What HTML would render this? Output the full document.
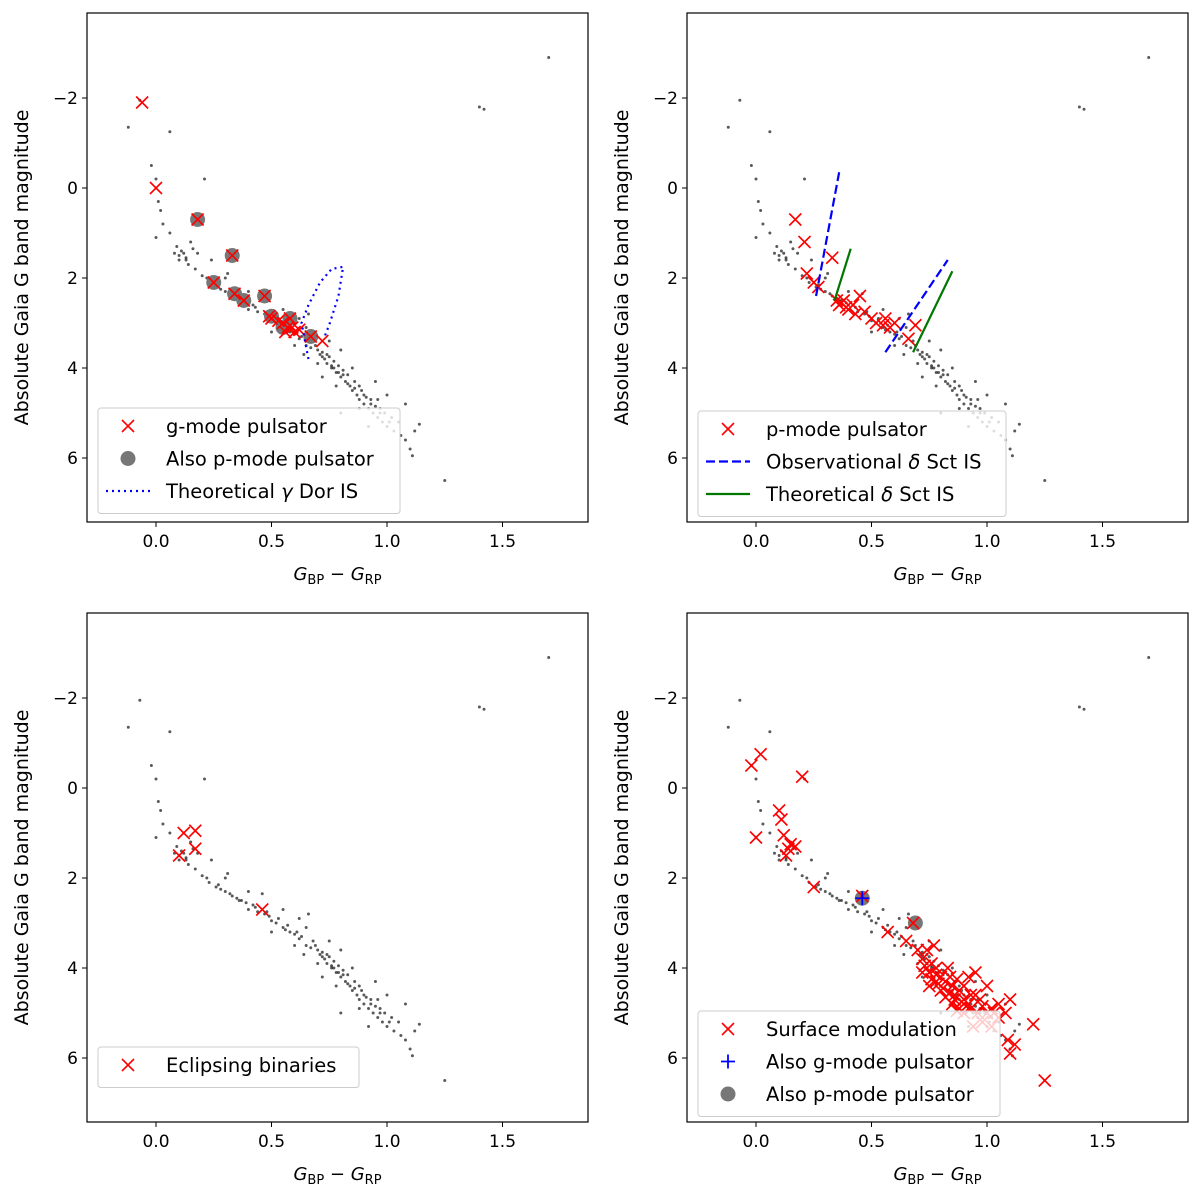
<!DOCTYPE html>
<html><head><meta charset="utf-8"><style>
body{margin:0;background:#fff}
svg text{font-family:"DejaVu Sans","Liberation Sans",sans-serif;fill:#000}
</style></head><body>
<svg id="fig" width="1200" height="1199" viewBox="0 0 1200 1199" xmlns="http://www.w3.org/2000/svg"></svg>
<script>
const bgStars=[[-0.12,-1.35],[-0.07,-1.95],[0.06,-1.25],[-0.02,-0.5],[0.0,-0.2],[0.01,0.3],[0.02,0.5],[0.0,1.1],[0.03,0.8],[0.06,1.0],[0.09,1.3],[0.1,1.5],[0.1,1.6],[0.12,1.45],[0.13,1.55],[0.14,1.7],[0.15,1.2],[0.16,1.35],[0.17,1.8],[0.18,1.45],[0.2,1.95],[0.21,-0.2],[0.22,2.0],[0.23,2.1],[0.24,1.6],[0.26,2.2],[0.28,2.25],[0.3,2.3],[0.31,1.9],[0.33,2.4],[0.35,2.45],[0.37,2.5],[0.39,2.55],[0.4,2.7],[0.42,2.6],[0.44,2.75],[0.46,2.35],[0.47,2.8],[0.49,2.85],[0.5,2.95],[0.52,3.0],[0.53,2.9],[0.55,3.1],[0.56,3.15],[0.58,3.2],[0.6,3.25],[0.62,3.35],[0.63,3.3],[0.65,3.5],[0.66,2.8],[0.67,3.55],[0.68,3.4],[0.7,3.6],[0.71,3.7],[0.72,3.65],[0.73,3.8],[0.74,3.9],[0.75,3.75],[0.76,4.0],[0.77,3.85],[0.78,4.1],[0.79,3.95],[0.8,4.2],[0.81,4.05],[0.82,4.3],[0.83,4.15],[0.84,4.4],[0.85,4.5],[0.86,4.3],[0.87,4.6],[0.88,4.7],[0.89,4.5],[0.9,4.8],[0.91,4.65],[0.92,4.9],[0.93,4.7],[0.94,5.0],[0.95,4.85],[0.96,5.1],[0.97,4.9],[0.98,5.2],[0.99,5.0],[1.0,5.3],[1.02,5.1],[1.03,5.4],[1.05,5.2],[1.06,5.5],[1.08,5.6],[1.1,5.8],[1.11,5.95],[1.12,5.4],[1.14,5.25],[1.08,4.8],[1.0,4.6],[0.95,4.3],[0.85,4.0],[0.8,3.6],[0.75,3.4],[0.65,3.1],[0.55,2.7],[0.6,3.5],[0.7,3.9],[0.78,4.4],[0.88,4.9],[0.4,2.3],[0.3,2.0],[1.25,6.5],[1.4,-1.8],[1.42,-1.75],[1.7,-2.9],[0.8,5.0],[0.72,4.2],[0.92,5.3],[0.64,3.7],[0.62,2.9],[0.5,3.2],[0.11,1.4],[0.13,1.6],[0.08,1.45],[0.27,2.15],[0.32,2.35],[0.36,2.5],[0.43,2.65],[0.48,2.75],[0.57,3.05],[0.61,3.2],[0.69,3.5],[0.74,3.7],[0.77,4.0],[0.79,4.1],[0.81,4.15],[0.83,4.35],[0.86,4.45],[0.9,4.6],[0.93,4.8],[0.97,5.0],[1.01,5.2],[0.76,3.95],[0.72,3.75],[0.88,4.4],[0.96,4.7]];
const gModeX=[[-0.06,-1.9],[0,0.0],[0.18,0.7],[0.33,1.5],[0.25,2.1],[0.34,2.35],[0.38,2.5],[0.47,2.4],[0.49,2.85],[0.5,2.9],[0.55,3.0],[0.57,3.1],[0.58,2.9],[0.6,3.2],[0.56,3.2],[0.62,3.15],[0.67,3.3],[0.72,3.4],[0.59,3.1],[0.53,2.95]];
const gModeAlsoP=[[0.18,0.7],[0.33,1.5],[0.25,2.1],[0.34,2.35],[0.38,2.5],[0.47,2.4],[0.5,2.85],[0.58,2.9],[0.67,3.3],[0.55,3.1]];
const gDorIS=[[0.66,3.8],[0.63,3.0],[0.66,2.6],[0.71,2.1],[0.76,1.8],[0.81,1.75],[0.79,2.4],[0.75,3.04],[0.73,3.3]];
const pModeX=[[0.17,0.7],[0.21,1.2],[0.22,1.9],[0.25,2.1],[0.27,2.2],[0.33,1.55],[0.35,2.5],[0.36,2.6],[0.38,2.5],[0.4,2.7],[0.42,2.6],[0.43,2.8],[0.45,2.4],[0.47,2.75],[0.5,2.9],[0.52,3.0],[0.55,3.05],[0.56,2.9],[0.58,3.1],[0.6,3.0],[0.66,3.35],[0.69,3.05],[0.37,2.55],[0.39,2.65]];
const obsBlue=[[0.26,2.4],[0.36,-0.35]];
const obsRed=[[0.56,3.65],[0.83,1.6]];
const theoBlue=[[0.34,2.5],[0.41,1.35]];
const theoRed=[[0.68,3.65],[0.85,1.85]];
const eclX=[[0.12,1.0],[0.17,0.95],[0.1,1.5],[0.17,1.35],[0.46,2.7]];
const rotX=[[-0.02,-0.5],[0.02,-0.75],[0.0,1.1],[0.1,0.5],[0.11,0.7],[0.12,1.05],[0.14,1.35],[0.15,1.25],[0.13,1.5],[0.17,1.3],[0.2,-0.25],[0.25,2.2],[0.46,2.4],[0.57,3.2],[0.65,3.4],[0.68,3.0],[0.7,3.6],[0.72,3.8],[0.74,3.6],[0.76,3.9],[0.75,4.1],[0.78,4.0],[0.8,4.2],[0.77,3.5],[0.82,4.3],[0.85,4.4],[0.86,4.6],[0.88,4.5],[0.9,4.7],[0.92,4.8],[0.95,4.1],[0.93,4.9],[0.97,4.7],[1.0,5.0],[1.02,4.9],[1.05,4.8],[1.08,5.0],[1.1,4.7],[1.12,5.7],[1.1,5.9],[1.09,5.6],[1.2,5.25],[1.25,6.5],[0.98,5.2],[0.9,5.0],[0.85,4.8],[0.8,4.5],[0.75,4.4],[0.83,4.0],[0.87,4.25],[0.95,4.6],[1.0,4.4],[0.92,4.2],[0.78,4.3],[0.72,4.1],[0.88,4.9],[1.05,5.1],[0.96,5.0],[1.02,5.3],[0.94,5.3],[0.79,4.35],[0.81,4.45],[0.84,4.55],[0.86,4.7],[0.89,4.75],[0.91,4.85],[0.93,4.6],[0.76,4.25],[0.73,3.95],[0.82,4.65],[0.87,4.95],[0.98,4.85],[1.03,5.0],[0.9,4.4],[0.84,4.2],[0.78,4.15]];
const rotAlsoG=[[0.46,2.45]];
const rotAlsoP=[[0.46,2.45],[0.69,3.0]];
const xTicks=[0.0,0.5,1.0,1.5];
const xTickLabels=["0.0","0.5","1.0","1.5"];
const yTicks=[-2,0,2,4,6];
const yTickLabels=["\u22122","0","2","4","6"];

const NS="http://www.w3.org/2000/svg";
const fig=document.getElementById('fig');
function el(tag,attrs,parent){const e=document.createElementNS(NS,tag);for(const k in attrs)e.setAttribute(k,attrs[k]);(parent||fig).appendChild(e);return e;}

function panel(ox,oy,name){
  const g=el('g',{});
  
  
  const L=ox+87,R=ox+588,T=oy+13,B=oy+522;
  const sx=v=>ox+156+v*231;
  const sy=v=>oy+188+v*45;
  bgStars.forEach(p=>{const c=el('circle',{cx:sx(p[0]),cy:sy(p[1]),r:1.5,fill:'rgba(0,0,0,0.65)'},g);
    
    });
  return {g,L,R,T,B,sx,sy,ox,oy};
}
function frame(P){
  const g=P.g;
  const f=el('rect',{x:P.L,y:P.T,width:P.R-P.L,height:P.B-P.T,fill:'none',stroke:'#000','stroke-width':1.2},g);
  
  
  xTicks.forEach((v,i)=>{const x=P.sx(v);
    el('line',{x1:x,x2:x,y1:P.B,y2:P.B+5,stroke:'#000'},g);
    const t=el('text',{x:x,y:P.B+25,'font-size':17,'text-anchor':'middle'},g);t.textContent=xTickLabels[i];
    
    });
  yTicks.forEach((v,i)=>{const y=P.sy(v);
    el('line',{x1:P.L-5,x2:P.L,y1:y,y2:y,stroke:'#000'},g);
    const t=el('text',{x:P.L-9,y:y+6,'font-size':17,'text-anchor':'end'},g);t.textContent=yTickLabels[i];
    
    });
  const xl=el('text',{x:(P.L+P.R)/2,y:P.oy+580,'font-size':18,'text-anchor':'middle'},g);
  xl.innerHTML='<tspan font-style="italic">G</tspan><tspan font-size="13" dy="4">BP</tspan><tspan dy="-4"> \u2212 </tspan><tspan font-style="italic">G</tspan><tspan font-size="13" dy="4">RP</tspan>';
  
  
  const yl=el('text',{x:0,y:0,'font-size':19,'text-anchor':'middle',transform:`translate(${P.ox+28},${(P.T+P.B)/2}) rotate(-90)`},g);
  yl.textContent='Absolute Gaia G band magnitude';
  
  
}
function cross(g,x,y,col,name){
  const p=el('path',{d:`M${x-6},${y-6}L${x+6},${y+6}M${x-6},${y+6}L${x+6},${y-6}`,stroke:col,'stroke-width':1.6,fill:'none'},g);
  
  
}
function dotG(g,x,y,name){const c=el('circle',{cx:x,cy:y,r:7.5,fill:'#777'},g);
  
  }
function plus(g,x,y,name){const p=el('path',{d:`M${x-7},${y}L${x+7},${y}M${x},${y-7}L${x},${y+7}`,stroke:'#00f','stroke-width':1.8},g);
  
  }
function line(P,pts,col,dash,name){
  const d=pts.map((p,i)=>(i?'L':'M')+P.sx(p[0])+','+P.sy(p[1])).join('');
  const l=el('path',{d:d,stroke:col,'stroke-width':2.2,fill:'none','stroke-dasharray':dash},P.g);
  
  
}
function legend(P,x,y,w,entries){
  const lg=el('g',{},P.g);
  
  
  el('rect',{x:x,y:y,width:w,height:entries.length*32.5+8,rx:3,fill:'rgba(255,255,255,0.8)',stroke:'#ccc'},lg);
  entries.forEach((e,i)=>{const cy=y+18+i*32.5;const mx=x+30;
    if(e.t==='x')cross(lg,mx,cy,'#f00','legend-marker');
    if(e.t==='o')dotG(lg,mx,cy,'legend-marker');
    if(e.t==='+')plus(lg,mx,cy,'legend-marker');
    if(e.t==='line'){el('line',{x1:x+8,x2:x+52,y1:cy,y2:cy,stroke:e.c,'stroke-width':2.2,'stroke-dasharray':e.d},lg);}
    const t=el('text',{x:x+68,y:cy+7,'font-size':19.5},lg);t.innerHTML=e.label;
    
    });
}

let P=panel(0,0,'g-mode-panel');
gModeAlsoP.forEach(p=>dotG(P.g,P.sx(p[0]),P.sy(p[1]),'p-mode-also-point'));
gModeX.forEach(p=>cross(P.g,P.sx(p[0]),P.sy(p[1]),'#f00','g-mode-point'));
line(P,gDorIS,'#00f','2,4','gamma-dor-is');
legend(P,98,408,302,[{t:'x',label:'g-mode pulsator'},{t:'o',label:'Also p-mode pulsator'},{t:'line',c:'#00f',d:'2,4',label:'Theoretical <tspan font-style="italic">γ</tspan> Dor IS'}]);
frame(P);

P=panel(600,0,'p-mode-panel');
pModeX.forEach(p=>cross(P.g,P.sx(p[0]),P.sy(p[1]),'#f00','p-mode-point'));
line(P,obsBlue,'#00f','9,4','obs-blue-edge');
line(P,obsRed,'#00f','9,4','obs-red-edge');
line(P,theoBlue,'#070','','theo-blue-edge');
line(P,theoRed,'#070','','theo-red-edge');
legend(P,698,411,308,[{t:'x',label:'p-mode pulsator'},{t:'line',c:'#00f',d:'9,4',label:'Observational <tspan font-style="italic">δ</tspan> Sct IS'},{t:'line',c:'#070',d:'',label:'Theoretical <tspan font-style="italic">δ</tspan> Sct IS'}]);
frame(P);

P=panel(0,600,'eclipsing-panel');
eclX.forEach(p=>cross(P.g,P.sx(p[0]),P.sy(p[1]),'#f00','eclipsing-point'));
legend(P,98,1047,261,[{t:'x',label:'Eclipsing binaries'}]);
frame(P);

P=panel(600,600,'rotation-panel');
rotAlsoP.forEach(p=>dotG(P.g,P.sx(p[0]),P.sy(p[1]),'p-mode-also-point'));
rotX.forEach(p=>cross(P.g,P.sx(p[0]),P.sy(p[1]),'#f00','rotation-point'));
rotAlsoG.forEach(p=>plus(P.g,P.sx(p[0]),P.sy(p[1]),'g-mode-also-point'));
legend(P,698,1011,302,[{t:'x',label:'Surface modulation'},{t:'+',label:'Also g-mode pulsator'},{t:'o',label:'Also p-mode pulsator'}]);
frame(P);
</script>
</body></html>
